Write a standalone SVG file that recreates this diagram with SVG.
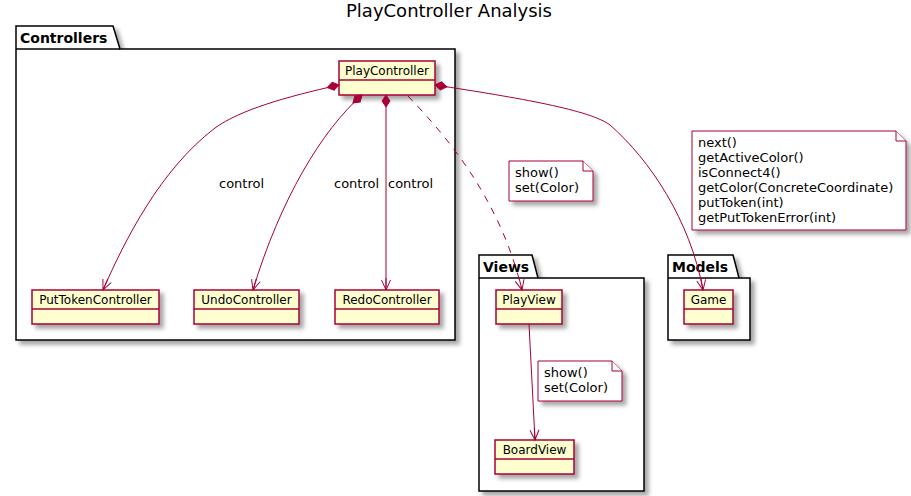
<svg xmlns="http://www.w3.org/2000/svg" width="911" height="496" viewBox="0 0 911 496">
<defs>
<filter id="sh" x="-10%" y="-10%" width="130%" height="140%">
<feDropShadow dx="4" dy="4" stdDeviation="2" flood-color="#000" flood-opacity="0.35"/>
</filter>
<marker id="arr" viewBox="-12 -6 14 12" refX="0" refY="0" markerWidth="14" markerHeight="12" markerUnits="userSpaceOnUse" orient="auto">
<path d="M-10,-4.5 L0,0 L-10,4.5 M0,0 L-12,0" fill="none" stroke="#A80036" stroke-width="1"/>
</marker>
<marker id="dia" viewBox="-1 -5 14 10" refX="0" refY="0" markerWidth="14" markerHeight="10" markerUnits="userSpaceOnUse" orient="auto">
<path d="M0,0 L6,-4 L12,0 L6,4 Z" fill="#A80036" stroke="#A80036" stroke-width="1"/>
</marker>
</defs>
<style>
text{font-family:"DejaVu Sans","Liberation Sans",sans-serif;fill:#000}
.pkg{fill:#fff;stroke:#000;stroke-width:1.5}
.ptitle{font-size:14px;font-weight:bold}
.cls rect{fill:#FEFECE;stroke:#A80036;stroke-width:1.5}
.cls line{stroke:#A80036;stroke-width:1.5}
.cls text{font-size:12px;text-anchor:middle}
.note path{fill:#fff;stroke:#A80036;stroke-width:1}
.note text{font-size:13px}
.edge{fill:none;stroke:#A80036;stroke-width:1}
.lbl{font-size:13px}
</style>
<text x="449" y="17" font-size="18" text-anchor="middle">PlayController Analysis</text>

<g id="pkg-controllers">
<path class="pkg" filter="url(#sh)" d="M16,26 L113,26 L120,49 L455,49 L455,340 L16,340 Z"/>
<path d="M16,49 L120,49" stroke="#000" stroke-width="1.5"/>
<text class="ptitle" x="20" y="43">Controllers</text>
</g>
<g id="pkg-views">
<path class="pkg" filter="url(#sh)" d="M479,255 L532,255 L538,278 L644,278 L644,491 L479,491 Z"/>
<path d="M479,278 L538,278" stroke="#000" stroke-width="1.5"/>
<text class="ptitle" x="483" y="272">Views</text>
</g>
<g id="pkg-models">
<path class="pkg" filter="url(#sh)" d="M668,255 L733,255 L739,278 L750,278 L750,340 L668,340 Z"/>
<path d="M668,278 L739,278" stroke="#000" stroke-width="1.5"/>
<text class="ptitle" x="672" y="272">Models</text>
</g>

<g id="PlayController" class="cls">
<rect x="339" y="61" width="96" height="34" filter="url(#sh)"/>
<line x1="339" y1="80" x2="435" y2="80"/>
<text x="387" y="75">PlayController</text>
</g>
<g id="PutTokenController" class="cls">
<rect x="32" y="290" width="127" height="34" filter="url(#sh)"/>
<line x1="32" y1="309" x2="159" y2="309"/>
<text x="95.5" y="304">PutTokenController</text>
</g>
<g id="UndoController" class="cls">
<rect x="194" y="290" width="105" height="34" filter="url(#sh)"/>
<line x1="194" y1="309" x2="299" y2="309"/>
<text x="246.5" y="304">UndoController</text>
</g>
<g id="RedoController" class="cls">
<rect x="335" y="290" width="104" height="34" filter="url(#sh)"/>
<line x1="335" y1="309" x2="439" y2="309"/>
<text x="387" y="304">RedoController</text>
</g>
<g id="PlayView" class="cls">
<rect x="496" y="290" width="66" height="34" filter="url(#sh)"/>
<line x1="496" y1="309" x2="562" y2="309"/>
<text x="529" y="304">PlayView</text>
</g>
<g id="BoardView" class="cls">
<rect x="495" y="440" width="79" height="34" filter="url(#sh)"/>
<line x1="495" y1="459" x2="574" y2="459"/>
<text x="534.5" y="454">BoardView</text>
</g>
<g id="Game" class="cls">
<rect x="684" y="290" width="49" height="34" filter="url(#sh)"/>
<line x1="684" y1="309" x2="733" y2="309"/>
<text x="708.5" y="304">Game</text>
</g>

<g id="note-playview" class="note">
<path filter="url(#sh)" d="M509,161 L583,161 L593,171 L593,201 L509,201 Z"/>
<path d="M583,161 L583,171 L593,171"/>
<text x="515" y="177">show()</text>
<text x="515" y="192">set(Color)</text>
</g>
<g id="note-boardview" class="note">
<path filter="url(#sh)" d="M538,361 L612,361 L622,371 L622,401 L538,401 Z"/>
<path d="M612,361 L612,371 L622,371"/>
<text x="544" y="377">show()</text>
<text x="544" y="392">set(Color)</text>
</g>
<g id="note-game" class="note">
<path filter="url(#sh)" d="M692,131 L896,131 L906,141 L906,230 L692,230 Z"/>
<path d="M896,131 L896,141 L906,141"/>
<text x="698" y="147">next()</text>
<text x="698" y="162">getActiveColor()</text>
<text x="698" y="177">isConnect4()</text>
<text x="698" y="192">getColor(ConcreteCoordinate)</text>
<text x="698" y="207">putToken(int)</text>
<text x="698" y="222">getPutTokenError(int)</text>
</g>

<g id="connectors">
<path class="edge" marker-start="url(#dia)" marker-end="url(#arr)" d="M339,85 C285,97 240,110 215,128 C160,170 125,240 103,290"/>
<path class="edge" marker-start="url(#dia)" marker-end="url(#arr)" d="M362,95 C322,130 280,200 253,290"/>
<path class="edge" marker-start="url(#dia)" marker-end="url(#arr)" d="M386,95 L386,290"/>
<path class="edge" stroke-dasharray="7,7" marker-end="url(#arr)" d="M408,96 C450,140 500,200 522,290"/>
<path class="edge" marker-start="url(#dia)" marker-end="url(#arr)" d="M435,85 C520,98 590,110 610,125 C650,160 690,220 703,290"/>
<path class="edge" marker-end="url(#arr)" d="M529,324 L535,440"/>
<text class="lbl" x="219" y="188">control</text>
<text class="lbl" x="334" y="188">control</text>
<text class="lbl" x="388" y="188">control</text>
</g>
</svg>
